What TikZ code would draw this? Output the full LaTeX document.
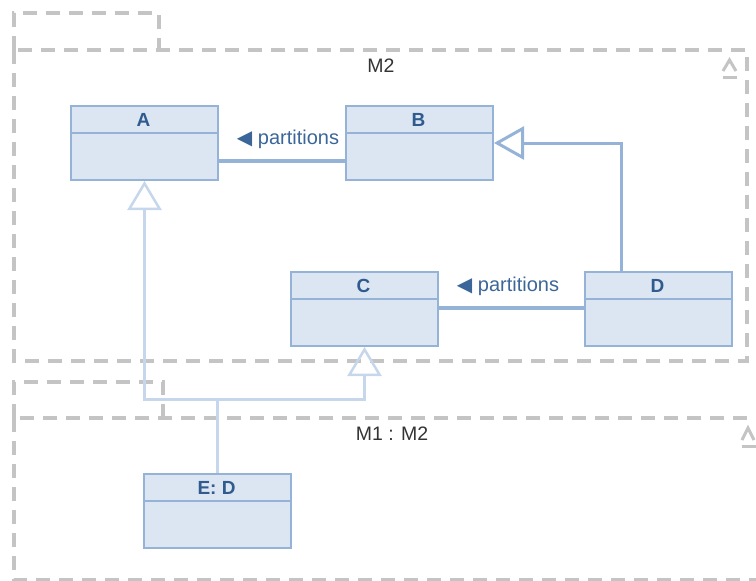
\documentclass[tikz,border=0pt]{standalone}
\usepackage{fontspec}
\setmainfont{Liberation Sans}
\newfontfamily\symfont{DejaVu Sans}
\usetikzlibrary{arrows.meta,calc}
\definecolor{pkggray}{HTML}{C4C4C4}
\definecolor{clsfill}{HTML}{DCE6F2}
\definecolor{clsline}{HTML}{95B3D7}
\definecolor{clstext}{HTML}{2F5B8F}
\definecolor{lighttie}{HTML}{C6D7EC}
\definecolor{lbltext}{HTML}{3B6699}
\definecolor{pkgtext}{HTML}{333333}
\tikzset{
  pkg/.style={draw=pkggray, line width=3.5pt, dash pattern=on 14pt off 9pt},
  pkgicon/.style={draw=pkggray, line width=3pt},
  cls/.style={draw=clsline, fill=clsfill, line width=2pt, minimum width=147pt, minimum height=74pt, inner sep=0pt, anchor=north west},
  clsdiv/.style={draw=clsline, line width=2pt},
  clstitle/.style={font=\fontsize{19}{22}\selectfont\bfseries, text=clstext, inner sep=0pt},
  assoc/.style={draw=clsline, line width=3.5pt},
  gen/.style={draw=clsline, line width=3pt, -{Triangle[open, length=30pt, width=33pt]}},
  lightgen/.style={draw=lighttie, line width=2.5pt, -{Triangle[open, length=29pt, width=34pt]}},
  lighttie/.style={draw=lighttie, line width=2.5pt},
  lbl/.style={font=\fontsize{20}{23}\selectfont, text=lbltext, inner sep=0pt},
  pkglbl/.style={font=\fontsize{19.5}{22}\selectfont, text=pkgtext, inner sep=0pt},
}
\newcommand{\umlclass}[4]{%
  \node[cls] (#1) at (#2,#3) {};
  \node[clstitle] (#1t) at (#2+73.5,#3+14.5) {#4};
  \draw[clsdiv] (#2,#3+28) -- (#2+147,#3+28);
}
\begin{document}
\begin{tikzpicture}[x=1pt,y=-1pt]
\useasboundingbox (0,0) rectangle (756,581);
% package M2
\draw[pkg] (14,50) rectangle (747,361);
\draw[pkg] (14,50) -- (14,13) -- (159,13) -- (159,50);
\node[pkglbl] (m2) at (381,66) {M2};
\draw[pkgicon] (723,71) -- (729.5,60) -- (736,71);
\draw[pkgicon] (723,77.5) -- (737,77.5);
% package M1 : M2
\draw[pkg] (14,418) -- (14,580) -- (770,580);
\draw[pkg] (770,418) -- (14,418);
\draw[pkg] (14,418) -- (14,382) -- (163,382) -- (163,418);
\node[pkglbl] (m1) at (392,434) {M1 : M2};
\draw[pkgicon] (742,440) -- (748,428) -- (754,440);
\draw[pkgicon] (742,446) -- (757,446);
% classes
\coordinate (jy) at (0,399.5);
\umlclass{A}{70}{105}{A}
\umlclass{B}{345}{105}{B}
\umlclass{C}{290}{271}{C}
\umlclass{D}{584}{271}{D}
\umlclass{E}{143}{473}{E: D}
% light generalizations from E
\draw[lighttie] (E.north) -- (E.north |- jy);
\draw[lightgen] (E.north |- jy) -- (A.south |- jy) -- (A.south);
\draw[lightgen] (E.north |- jy) -- (C.south |- jy) -- (C.south);
% associations
\draw[assoc] (A.east |- 0,161) -- (B.west |- 0,161);
\node[lbl] (p1) at (288,139) {{\symfont ◀} partitions};
\draw[assoc] (C.east |- 0,308) -- (D.west |- 0,308);
\node[lbl] (p2) at (508,286) {{\symfont ◀} partitions};
% generalization D -> B
\draw[gen] ([xshift=-37.5pt]D.north) |- (B.east);
\end{tikzpicture}
\end{document}
